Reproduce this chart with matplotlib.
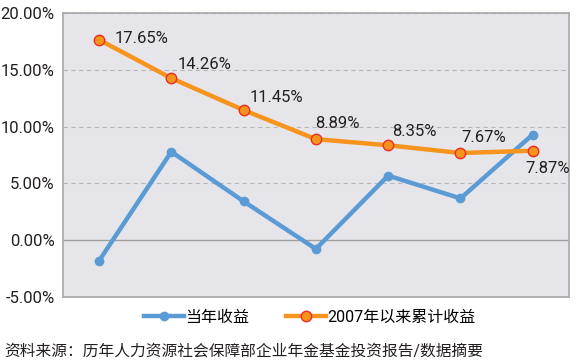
import matplotlib
matplotlib.use('Agg')
import matplotlib.pyplot as plt
from matplotlib.ticker import FuncFormatter

plt.rcParams['font.family'] = ['Roboto', 'Noto Sans CJK SC', 'DejaVu Sans']

# data (2008-2014)
years = ['2008', '2009', '2010', '2011', '2012', '2013', '2014']
annual = [-1.83, 7.78, 3.41, -0.78, 5.68, 3.67, 9.30]
cumulative = [17.65, 14.26, 11.45, 8.89, 8.35, 7.67, 7.87]
yticks = [-5, 0, 5, 10, 15, 20]

# label offsets in pixels (dx, dy)
label_offsets = [(16, 1), (6, 14), (6, 13), (-1, 16), (4, 14), (1, 16), (-7, -18)]

fig = plt.figure(figsize=(5.77, 3.62), dpi=100)
ax = fig.add_axes([0.109, 0.18, 0.877, 0.784])
ax.set_facecolor('#E6E6EA')

x = list(range(len(years)))
ax.plot(x, annual, color='#5B9BD5', lw=3.2, marker='o', ms=6,
        mfc='#5B9BD5', mec='#5B9BD5', label='当年收益', zorder=3)
ax.plot(x, cumulative, color='#F7941D', lw=3.2, marker='o', ms=7.5,
        mfc='#F7941D', mec='#EE2B24', mew=1.0, label='2007年以来累计收益', zorder=4)

for i, v in enumerate(cumulative):
    dx, dy = label_offsets[i]
    ax.annotate(f'{v:.2f}%', (i, v), xytext=(dx * 0.72, dy * 0.72), textcoords='offset points',
                fontsize=12, color='#231F20', ha='left', va='center')

ax.set_xlim(-0.5, len(years) - 0.5)
ax.set_ylim(-5, 20)
ax.set_yticks(yticks)
ax.yaxis.set_major_formatter(FuncFormatter(lambda v, p: f'{v:.2f}%'))
ax.set_xticks([])
ax.tick_params(axis='y', length=0, labelsize=12, colors='#231F20', pad=6)

for v in yticks:
    if v == 0:
        ax.axhline(v, color='#A0A0A0', lw=1.0, zorder=1)
    elif v > 0:
        ax.axhline(v, color='#B8B8B8', lw=0.8, ls=(0, (4, 3)), zorder=1)

for s in ax.spines.values():
    s.set_color('#A8A8A8')
    s.set_linewidth(1.2)

fig.legend(loc='center', bbox_to_anchor=(0.537, 0.124), ncol=2, frameon=False,
           fontsize=11.5, handlelength=2.5, columnspacing=2.3, handletextpad=0.1)

fig.text(0.008, 0.03, '资料来源：历年人力资源社会保障部企业年金基金投资报告/数据摘要',
         fontsize=11.3, color='#231F20', ha='left', va='center')

fig.savefig('out.png', dpi=100)
